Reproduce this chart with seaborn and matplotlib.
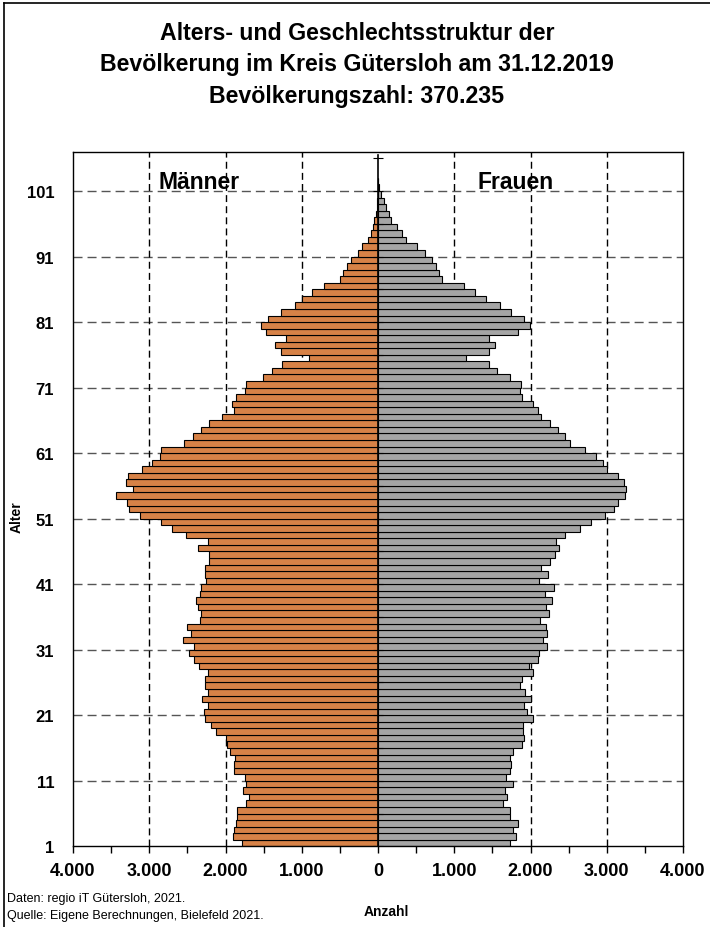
import numpy as np
import pandas as pd
import seaborn as sns
import matplotlib
matplotlib.use('Agg')
import matplotlib.pyplot as plt
from matplotlib.ticker import FixedLocator, FuncFormatter, MultipleLocator
from matplotlib.lines import Line2D

# Einwohner je Altersjahr (Index 0 = unterster Balken)
maenner = [1790, 1903, 1895, 1860, 1851, 1847, 1732, 1693, 1768, 1732,
           1750, 1886, 1890, 1872, 1947, 1982, 1990, 2131, 2196, 2270,
           2283, 2231, 2302, 2231, 2270, 2270, 2231, 2349, 2415, 2485,
           2415, 2551, 2446, 2499, 2336, 2319, 2367, 2389, 2336, 2319,
           2257, 2270, 2270, 2210, 2210, 2362, 2231, 2520, 2703, 2844,
           3115, 3268, 3286, 3438, 3207, 3299, 3281, 3097, 2966, 2853,
           2840, 2538, 2424, 2319, 2214, 2043, 1895, 1916, 1860, 1750,
           1732, 1505, 1387, 1260, 911, 1278, 1352, 1213, 1466, 1536,
           1444, 1278, 1094, 993, 866, 714, 495, 464, 407, 350,
           268, 206, 131, 88, 71, 53, 26, 18, 10, 6,
           2, 1]
frauen = [1734, 1804, 1777, 1835, 1734, 1734, 1642, 1686, 1668, 1777,
          1673, 1734, 1743, 1734, 1777, 1887, 1918, 1904, 1900, 2036,
          1957, 1918, 2005, 1931, 1856, 1882, 2036, 1974, 2097, 2118,
          2219, 2162, 2214, 2205, 2127, 2245, 2201, 2276, 2188, 2307,
          2118, 2236, 2132, 2262, 2324, 2372, 2328, 2446, 2647, 2787,
          2983, 3101, 3153, 3241, 3258, 3228, 3153, 3009, 2953, 2861,
          2721, 2524, 2446, 2359, 2262, 2144, 2097, 2036, 1882, 1856,
          1869, 1734, 1560, 1455, 1153, 1455, 1529, 1455, 1835, 1992,
          1913, 1743, 1594, 1415, 1271, 1131, 843, 799, 755, 703,
          611, 506, 367, 315, 249, 174, 144, 100, 79, 39,
          15, 6]
alter_labels = ['1', '11', '21', '31', '41', '51', '61', '71', '81', '91', '101']

n = len(maenner)
pos = np.arange(n) + 0.5
df = pd.DataFrame({
    'Position': np.concatenate([pos, pos]),
    'Anzahl': np.concatenate([-np.array(maenner), np.array(frauen)]),
    'Geschlecht': ['Männer'] * n + ['Frauen'] * n,
})

plt.rcParams['font.family'] = ['Liberation Sans', 'DejaVu Sans']

fig = plt.figure(figsize=(7.10, 9.28), dpi=100)
ax = fig.add_axes([73 / 710, 1 - 847.3 / 928, (683 - 73) / 710, (847.3 - 152.7) / 928])

# Gitterlinien hinter den Balken
for yv in range(10, 101, 10):
  ax.axhline(yv, color='#555555', lw=1.0, linestyle=(0, (6.5, 3.6)), zorder=0)
for xv in [-3000, -2000, -1000, 1000, 2000, 3000]:
  ax.axvline(xv, color='black', lw=1.0, linestyle=(0, (5, 3)), zorder=0)

sns.barplot(data=df, x='Anzahl', y='Position', hue='Geschlecht', orient='h',
            native_scale=True, dodge=False, width=1.0,
            palette={'Männer': '#EF7D2F', 'Frauen': '#A5A5A5'},
            edgecolor='black', linewidth=0.8, legend=False, ax=ax, zorder=2)

# zentrale Achse
ax.plot([0, 0], [0, 105.5], color='black', lw=1.2, zorder=4)
ax.hlines(np.arange(0, 106, 5), -65, 65, color='black', lw=0.8, zorder=4)

ax.set_xlim(-4000, 4000)
ax.set_ylim(0, 106)
ax.xaxis.set_major_locator(MultipleLocator(1000))
ax.xaxis.set_minor_locator(MultipleLocator(500))
ax.xaxis.set_major_formatter(FuncFormatter(lambda v, p: f'{abs(int(v)):,}'.replace(',', '.')))
ax.tick_params(axis='x', which='both', direction='out', length=5, width=1, pad=6)
ax.tick_params(axis='x', which='major', labelsize=13)
ax.yaxis.set_major_locator(FixedLocator(range(0, 101, 10)))
ax.set_yticklabels(alter_labels, fontsize=12, fontweight='bold')
ax.tick_params(axis='y', length=0, pad=13.5)
for lab in ax.get_xticklabels():
  lab.set_fontweight('bold')
ax.set_xlabel('')
ax.set_ylabel('')
for sp in ax.spines.values():
  sp.set_linewidth(1.0)
  sp.set_color('black')

ax.text(-2345, 101.4, 'Männer', ha='center', va='center', fontsize=16.5, fontweight='bold', zorder=5)
ax.text(1800, 101.4, 'Frauen', ha='center', va='center', fontsize=16.5, fontweight='bold', zorder=5)

fig.text(357 / 710, 1 - 33 / 928, 'Alters- und Geschlechtsstruktur der', ha='center', va='center',
         fontsize=16.7, fontweight='bold')
fig.text(357 / 710, 1 - 64 / 928, 'Bevölkerung im Kreis Gütersloh am 31.12.2019', ha='center', va='center',
         fontsize=16.7, fontweight='bold')
fig.text(357 / 710, 1 - 96 / 928, 'Bevölkerungszahl: 370.235', ha='center', va='center',
         fontsize=16.7, fontweight='bold')

fig.text(17 / 710, 1 - 517 / 928, 'Alter', rotation=90, ha='center', va='center', fontsize=10, fontweight='bold')
fig.text(386 / 710, 1 - 912 / 928, 'Anzahl', ha='center', va='center', fontsize=10, fontweight='bold')
fig.text(7 / 710, 1 - 899 / 928, 'Daten: regio iT Gütersloh, 2021.', ha='left', va='center', fontsize=9)
fig.text(7 / 710, 1 - 916 / 928, 'Quelle: Eigene Berechnungen, Bielefeld 2021.', ha='left', va='center', fontsize=9)

# Rahmen oben und links
fig.add_artist(Line2D([4 / 710, 1], [1 - 4.3 / 928, 1 - 4.3 / 928], color='black', lw=1.2, transform=fig.transFigure))
fig.add_artist(Line2D([4 / 710, 4 / 710], [0, 1 - 4.3 / 928], color='black', lw=1.2, transform=fig.transFigure))

fig.savefig('out.png', dpi=100)
